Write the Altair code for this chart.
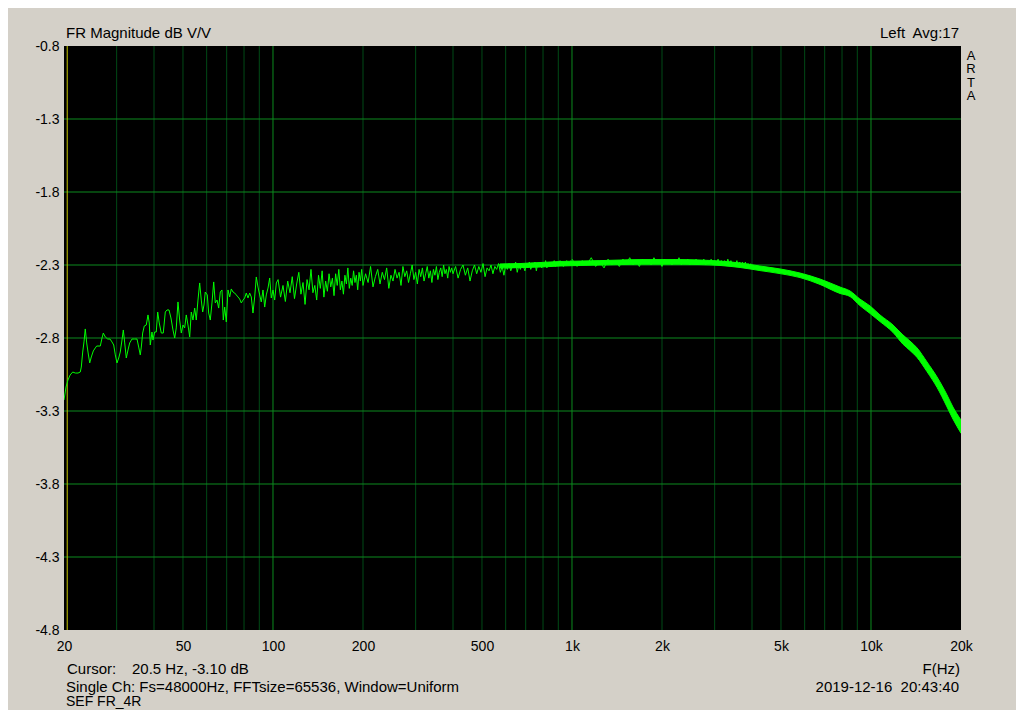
import altair as alt
import pandas as pd

# ---------------- data ----------------
# low-frequency part of the response (Hz, dB)
low_freq = [20.0, 20.31, 20.62, 20.97, 21.39, 21.82, 22.28, 22.67, 22.85, 23.10,
            23.33, 23.56, 23.82, 24.06, 24.38, 24.68, 25.06, 25.45, 25.73, 26.45,
            26.80, 27.07, 27.49, 28.0, 28.50, 28.94, 29.33, 29.69, 30.08, 30.48,
            30.85, 31.26, 31.58, 31.92, 32.31, 32.74, 33.17, 33.76, 34.47, 35.09,
            35.55, 35.99, 36.27, 36.66, 37.11, 37.69, 38.19, 38.57, 38.87, 39.38,
            39.69, 40.20, 40.70, 41.15, 41.65, 42.30, 42.96, 43.63, 44.21, 44.9,
            45.58, 46.29, 46.90, 47.48, 48.11, 48.74, 49.35, 50.0, 50.66, 51.28,
            51.96, 52.65, 53.30, 54.00, 54.71, 55.39, 56.12, 56.86, 57.56, 58.19,
            58.77, 59.36, 60.29, 60.94, 61.70, 62.51, 63.34, 64.12, 64.97, 65.82,
            66.64, 67.52, 68.20, 68.94, 69.79, 70.71, 71.64, 72.53, 73.49, 74.46,
            75.38, 76.37, 77.38, 78.34, 79.37, 80.42, 81.41, 82.48, 83.57, 84.61,
            85.72, 86.85, 87.93, 89.09, 90.27, 91.38, 92.59, 93.81, 94.97, 96.23,
            97.49, 98.70, 100.0, 101.3, 102.6]
low_db = [-3.225, -3.136, -3.088, -3.053, -3.033, -3.040, -3.040, -3.033, -2.999, -2.896,
          -2.827, -2.738, -2.834, -2.896, -2.971, -2.930, -2.889, -2.868, -2.855, -2.855,
          -2.800, -2.766, -2.793, -2.807, -2.807, -2.827, -2.848, -2.916, -2.971, -2.937,
          -2.896, -2.814, -2.745, -2.834, -2.937, -2.882, -2.834, -2.807, -2.807, -2.807,
          -2.862, -2.916, -2.862, -2.766, -2.718, -2.711, -2.642, -2.697, -2.848, -2.759,
          -2.814, -2.759, -2.759, -2.622, -2.697, -2.766, -2.766, -2.622, -2.608, -2.608,
          -2.663, -2.745, -2.800, -2.731, -2.553, -2.677, -2.766, -2.711, -2.731, -2.642,
          -2.711, -2.793, -2.622, -2.677, -2.595, -2.677, -2.540, -2.423, -2.540, -2.622,
          -2.574, -2.485, -2.505, -2.629, -2.677, -2.560, -2.416, -2.560, -2.540, -2.595,
          -2.485, -2.471, -2.677, -2.588, -2.690, -2.471, -2.519, -2.464, -2.485, -2.492,
          -2.505, -2.519, -2.533, -2.560, -2.540, -2.526, -2.492, -2.526, -2.492, -2.519,
          -2.629, -2.519, -2.382, -2.451, -2.505, -2.553, -2.471, -2.588, -2.505, -2.458,
          -2.389, -2.526, -2.471, -2.540, -2.423]

mid_freq = list(range(104, 200, 2)) + list(range(200, 400, 4)) + list(range(400, 1001, 8))
mid_db = [-2.40, -2.52, -2.44, -2.55, -2.41, -2.49, -2.38, -2.53, -2.43, -2.35,
          -2.50, -2.42, -2.57, -2.40, -2.47, -2.33, -2.49, -2.44, -2.54, -2.37,
          -2.46, -2.34, -2.52, -2.41, -2.48, -2.36, -2.45, -2.39, -2.51, -2.36,
          -2.44, -2.33, -2.47, -2.41, -2.50, -2.37, -2.43, -2.32, -2.46, -2.39,
          -2.44, -2.34, -2.42, -2.37, -2.47, -2.35, -2.41, -2.33,
          -2.44, -2.36, -2.42, -2.31, -2.45, -2.38, -2.33, -2.43, -2.35, -2.40,
          -2.32, -2.46, -2.37, -2.41, -2.33, -2.39, -2.35, -2.44, -2.31, -2.38,
          -2.34, -2.42, -2.36, -2.30, -2.40, -2.35, -2.43, -2.33, -2.38, -2.32,
          -2.41, -2.36, -2.31, -2.39, -2.34, -2.42, -2.33, -2.37, -2.31, -2.40,
          -2.35, -2.32, -2.38, -2.30, -2.36, -2.33, -2.39, -2.31, -2.35, -2.32,
          -2.36, -2.31, -2.39, -2.33, -2.30, -2.37, -2.32, -2.41, -2.34, -2.30,
          -2.36, -2.31, -2.35, -2.29, -2.38, -2.32, -2.34, -2.30, -2.36, -2.31,
          -2.33, -2.29, -2.35, -2.31, -2.37, -2.30, -2.33, -2.29, -2.34, -2.31,
          -2.32, -2.28, -2.35, -2.30, -2.33, -2.29, -2.31, -2.34, -2.29, -2.32,
          -2.28, -2.33, -2.30, -2.31, -2.28, -2.34, -2.29, -2.31, -2.28, -2.32,
          -2.29, -2.31, -2.27, -2.32, -2.29, -2.30, -2.28, -2.31, -2.29, -2.27,
          -2.31, -2.28, -2.30, -2.29, -2.27, -2.30, -2.28, -2.31, -2.28, -2.29,
          -2.27, -2.30, -2.28, -2.29, -2.27, -2.29]

# spikes riding on the thick trace between 1 kHz and 4 kHz
hf_freq = list(range(1000, 4000, 40))
hf_db = [-2.26, -2.31, -2.27, -2.30, -2.25, -2.31, -2.28, -2.32, -2.26, -2.30,
         -2.27, -2.31, -2.26, -2.29, -2.25, -2.30, -2.27, -2.31, -2.26, -2.29,
         -2.27, -2.30, -2.25, -2.29, -2.27, -2.31, -2.26, -2.29, -2.27, -2.30,
         -2.26, -2.29, -2.25, -2.30, -2.27, -2.29, -2.26, -2.30, -2.27, -2.29,
         -2.26, -2.30, -2.27, -2.29, -2.26, -2.30, -2.27, -2.29, -2.26, -2.30,
         -2.27, -2.29, -2.26, -2.30, -2.27, -2.29, -2.27, -2.30, -2.26, -2.29,
         -2.27, -2.30, -2.28, -2.30, -2.27, -2.31, -2.28, -2.30, -2.28, -2.31,
         -2.28, -2.31, -2.29, -2.31, -2.29]

# high-frequency part: thick trace, upper and lower edge (dB)
band_freq = [574, 670, 782, 912, 1064, 1240, 1447, 1688, 1970,
             2298, 2680, 3126, 3648, 4250, 4963, 5789, 6752, 7877, 8510,
             9180, 9930, 10717, 11850, 12790, 13500, 14260, 15390, 16630, 17960,
             18800, 20000]
band_top = [-2.293, -2.290, -2.283, -2.276, -2.273, -2.270, -2.266, -2.263, -2.263,
            -2.263, -2.266, -2.273, -2.286, -2.307, -2.327, -2.355, -2.396, -2.451, -2.478,
            -2.533, -2.581, -2.642, -2.711, -2.779, -2.821, -2.868, -2.964, -3.067, -3.190,
            -3.273, -3.362]
band_bot = [-2.321, -2.318, -2.314, -2.307, -2.303, -2.300, -2.297, -2.295, -2.295,
            -2.295, -2.297, -2.303, -2.317, -2.338, -2.359, -2.386, -2.433, -2.495, -2.516,
            -2.578, -2.632, -2.687, -2.762, -2.842, -2.885, -2.933, -3.030, -3.138, -3.272,
            -3.355, -3.452]

minor_grid = [30, 40, 50, 60, 70, 80, 90,
              200, 300, 400, 500, 600, 700, 800, 900,
              2000, 3000, 4000, 5000, 6000, 7000, 8000, 9000]
major_grid = [100, 1000, 10000]
h_grid = [-1.3, -1.8, -2.3, -2.8, -3.3, -3.8, -4.3]
cursor_freq = [20.5]
x_ticks = [20, 50, 100, 200, 500, 1000, 2000, 5000, 10000, 20000]
y_ticks = [-0.8, -1.3, -1.8, -2.3, -2.8, -3.3, -3.8, -4.3, -4.8]

# ---------------- chart ----------------
W, H = 897, 584
FONT = "Liberation Sans"
BG = "#D4D0C8"
GREEN = "#00FF00"
NB = "\u00a0"

xscale = alt.Scale(type="log", domain=[20, 20000], nice=False)
yscale = alt.Scale(domain=[-4.8, -0.8], nice=False, zero=False)
xaxis = alt.Axis(values=x_ticks,
                 labelExpr="datum.value >= 1000 ? (datum.value / 1000) + 'k' : datum.value + ''",
                 grid=False, ticks=False, domain=False, labelPadding=9,
                 labelFlush=False, labelOverlap=False, labelBound=False,
                 labelFontSize=14, labelFont=FONT, labelColor="#000000", title=None)
yaxis = alt.Axis(values=y_ticks, labelExpr="datum.value + ''",
                 grid=False, ticks=False, domain=False, labelPadding=5,
                 labelFlush=False, labelOverlap=False, labelBound=False,
                 labelFontSize=14, labelFont=FONT, labelColor="#000000", title=None)

X = lambda field: alt.X(field, type="quantitative", scale=xscale, axis=xaxis)
Y = lambda field: alt.Y(field, type="quantitative", scale=yscale, axis=yaxis)

minor = alt.Chart(pd.DataFrame({"f": minor_grid})).mark_rule(
    color="#004A16", strokeWidth=1).encode(x=X("f"))
major = alt.Chart(pd.DataFrame({"f": major_grid})).mark_rule(
    color="#0C8A1E", strokeWidth=1).encode(x=X("f"))
hlines = alt.Chart(pd.DataFrame({"db": h_grid})).mark_rule(
    color="#0C8A1E", strokeWidth=1).encode(y=Y("db"))
cursor = alt.Chart(pd.DataFrame({"f": cursor_freq})).mark_rule(
    color="#C8C800", strokeWidth=1).encode(x=X("f"))

line_df = pd.DataFrame({"f": low_freq + mid_freq, "db": low_db + mid_db})
curve = alt.Chart(line_df).mark_line(
    color=GREEN, strokeWidth=1, clip=True).encode(
    x=X("f"), y=Y("db"), order="f:Q")

hf_df = pd.DataFrame({"f": hf_freq, "db": hf_db})
hf_curve = alt.Chart(hf_df).mark_line(
    color=GREEN, strokeWidth=1, clip=True).encode(
    x=X("f"), y=Y("db"), order="f:Q")

band_df = pd.DataFrame({"f": band_freq, "top": band_top, "bot": band_bot})
band = alt.Chart(band_df).mark_area(
    fill=GREEN, stroke=GREEN, strokeWidth=1, clip=True, interpolate="monotone").encode(
    x=X("f"), y=Y("top"), y2="bot:Q")


def label(text, x, y, align="left", size=15):
    return alt.Chart(pd.DataFrame({"t": [text]})).mark_text(
        align=align, baseline="alphabetic", font=FONT, fontSize=size,
        color="#000000").encode(
        text="t:N", x=alt.value(x), y=alt.value(y))


texts = [
    label("FR Magnitude dB V/V", 2, -8),
    label("Left" + NB + " Avg:17", 895, -8, "right"),
    label("A", 907, 14, "center", 13),
    label("R", 907, 27.4, "center", 13),
    label("T", 907, 40.8, "center", 13),
    label("A", 907, 54.2, "center", 13),
    label("Cursor:", 3, 628),
    label("20.5 Hz, -3.10 dB", 68, 628),
    label("F(Hz)", 896, 628, "right"),
    label("Single Ch: Fs=48000Hz, FFTsize=65536, Window=Uniform", 2, 646),
    label("2019-12-16" + NB + " 20:43:40", 895, 646, "right"),
    label("SEF FR_4R", 2, 660, size=14),
]

chart = alt.layer(minor, major, hlines, cursor, band, curve, hf_curve, *texts).properties(
    width=W, height=H,
    padding={"left": 56, "top": 38, "right": 55, "bottom": 80},
    autosize=alt.AutoSizeParams(type="none"),
    background=BG,
).configure_view(fill="#000000", stroke="#000000", strokeWidth=0)

chart.save("out.html", embed_options={"renderer": "svg", "actions": False})
